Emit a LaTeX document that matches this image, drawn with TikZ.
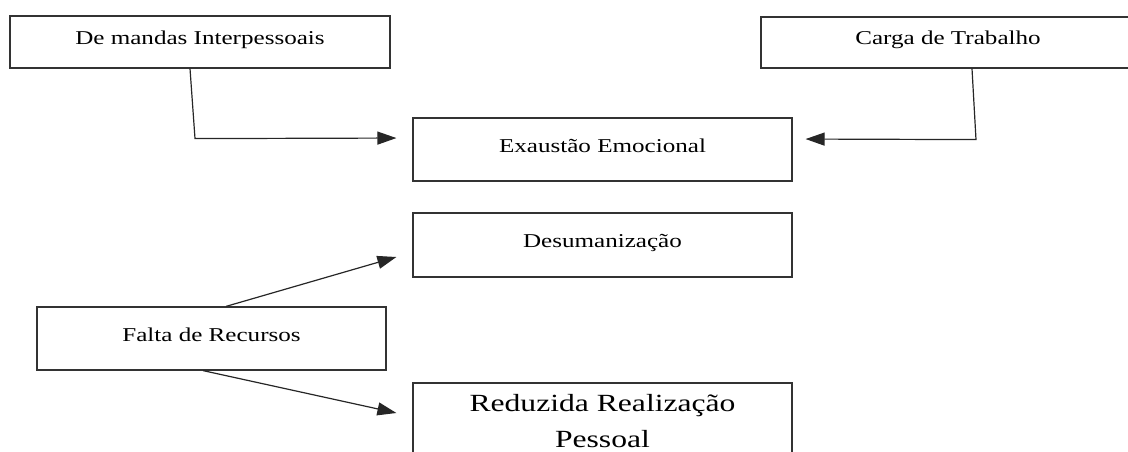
\documentclass[tikz,border=0pt]{standalone}
\usepackage{fontspec}
\setmainfont{Liberation Serif}
\newfontfamily\boxfont[FakeStretch=1.28]{Liberation Serif}
\usepackage{tikz}
\usetikzlibrary{arrows.meta}

\tikzset{
    box/.style={draw=black!80, line width=1.2pt, inner sep=0pt,
        text height=16pt, text depth=11pt,
        font=\boxfont\fontsize{19.6}{23}\selectfont},
    bigbox/.style={draw=black!80, line width=1.2pt, inner sep=0pt, align=center,
        font=\boxfont\fontsize{24.7}{36}\selectfont},
    conn/.style={draw=black!85, line width=1.2pt,
        -{Triangle[length=19pt,width=13pt]}}
}

\begin{document}
\begin{tikzpicture}[x=1pt,y=-1pt]
    \useasboundingbox (0,0) rectangle (1128,452);
    \clip (0,0) rectangle (1128,452);

    % causes
    \node[box, minimum width=380pt, minimum height=52pt] (dem) at (200,42) {De mandas Interpessoais};
    \node[box, minimum width=374pt, minimum height=51pt] (carga) at (948,42.5) {Carga de Trabalho};
    \node[box, minimum width=349pt, minimum height=63pt] (falta) at (211.5,338.5) {Falta de Recursos};

    % dimensions
    \node[box, minimum width=379pt, minimum height=63pt] (exa) at (602.5,149.5) {Exaustão Emocional\hspace{40pt}};
    \node[box, minimum width=379pt, minimum height=64pt] (desu) at (602.5,245) {Desumanização};
    \node[bigbox, minimum width=379pt, minimum height=77pt] (red) at (602.5,421.5) {Reduzida Realização\\Pessoal};

    \draw[conn, shorten >=16pt] ([xshift=-10pt]dem.south) -- ++(5,70) -- ([yshift=11.5pt]exa.west);
    \draw[conn, shorten >=13pt] ([xshift=24pt]carga.south) -- ++(4,71) -- ([yshift=10.5pt]exa.east);
    \draw[conn] ([xshift=14.5pt]falta.north) -- ([xshift=-16pt,yshift=-12pt]desu.west);
    \draw[conn] ([xshift=-8.5pt]falta.south) -- ([xshift=-16pt,yshift=8.5pt]red.west);
\end{tikzpicture}
\end{document}
